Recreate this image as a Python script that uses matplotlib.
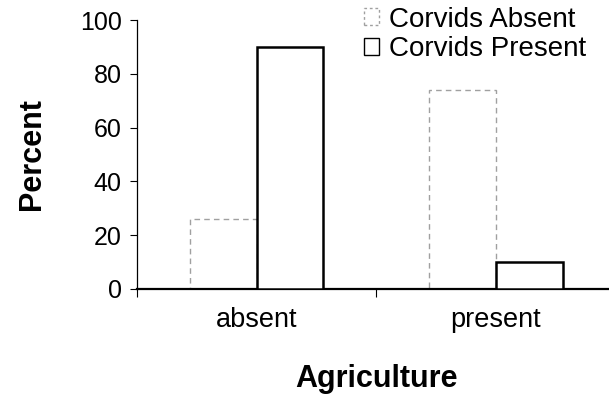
import matplotlib
matplotlib.use("Agg")
import matplotlib.pyplot as plt
from matplotlib.patches import Patch

plt.rcParams['font.family'] = ['Liberation Sans', 'DejaVu Sans']

categories = ["absent", "present"]
series_names = ["Corvids Absent", "Corvids Present"]
corvids_absent = [26, 74]
corvids_present = [90, 10]

fig = plt.figure(figsize=(6.09, 4.03), dpi=100)
ax = fig.add_axes([0.225, 0.283, 0.785, 0.667])

x = list(range(len(categories)))
w = 0.28
ax.bar([i - w / 2 for i in x], corvids_absent, width=w, facecolor='white',
       edgecolor='#a0a0a0', linewidth=1.0, linestyle=(0, (4, 3)), zorder=2)
ax.bar([i + w / 2 for i in x], corvids_present, width=w, facecolor='white',
       edgecolor='black', linewidth=1.8, zorder=3)

ax.set_xlim(-0.5, 1.5)
ax.set_ylim(0, 100)
ax.set_yticks([0, 20, 40, 60, 80, 100])
ax.tick_params(axis='y', labelsize=18, length=5, width=0.8, direction='out', pad=6)

ax.set_xticks([-0.5, 0.5, 1.5])
ax.set_xticklabels(['', '', ''])
ax.set_xticks(x, minor=True)
ax.set_xticklabels(categories, minor=True)
ax.tick_params(axis='x', which='major', length=6, width=0.8, direction='out')
ax.tick_params(axis='x', which='minor', length=0, labelsize=19.5, pad=13)

for s in ['top', 'right']:
    ax.spines[s].set_visible(False)
ax.spines['left'].set_linewidth(0.9)
ax.spines['bottom'].set_linewidth(1.6)

ax.set_ylabel("Percent", fontsize=22, fontweight='bold', labelpad=24)
ax.set_xlabel("Agriculture", fontsize=22, fontweight='bold', labelpad=22)

handles = [Patch(facecolor='white', edgecolor='#a0a0a0', linestyle=(0, (2, 2)), linewidth=1.0),
           Patch(facecolor='white', edgecolor='black', linewidth=1.0)]
leg = fig.legend(handles, series_names, loc='upper right', bbox_to_anchor=(0.985, 1.018),
                 frameon=False, fontsize=20, handlelength=0.55, handleheight=0.55,
                 handletextpad=0.35, labelspacing=0.12, borderaxespad=0.1)

fig.savefig("out.png", dpi=100)
